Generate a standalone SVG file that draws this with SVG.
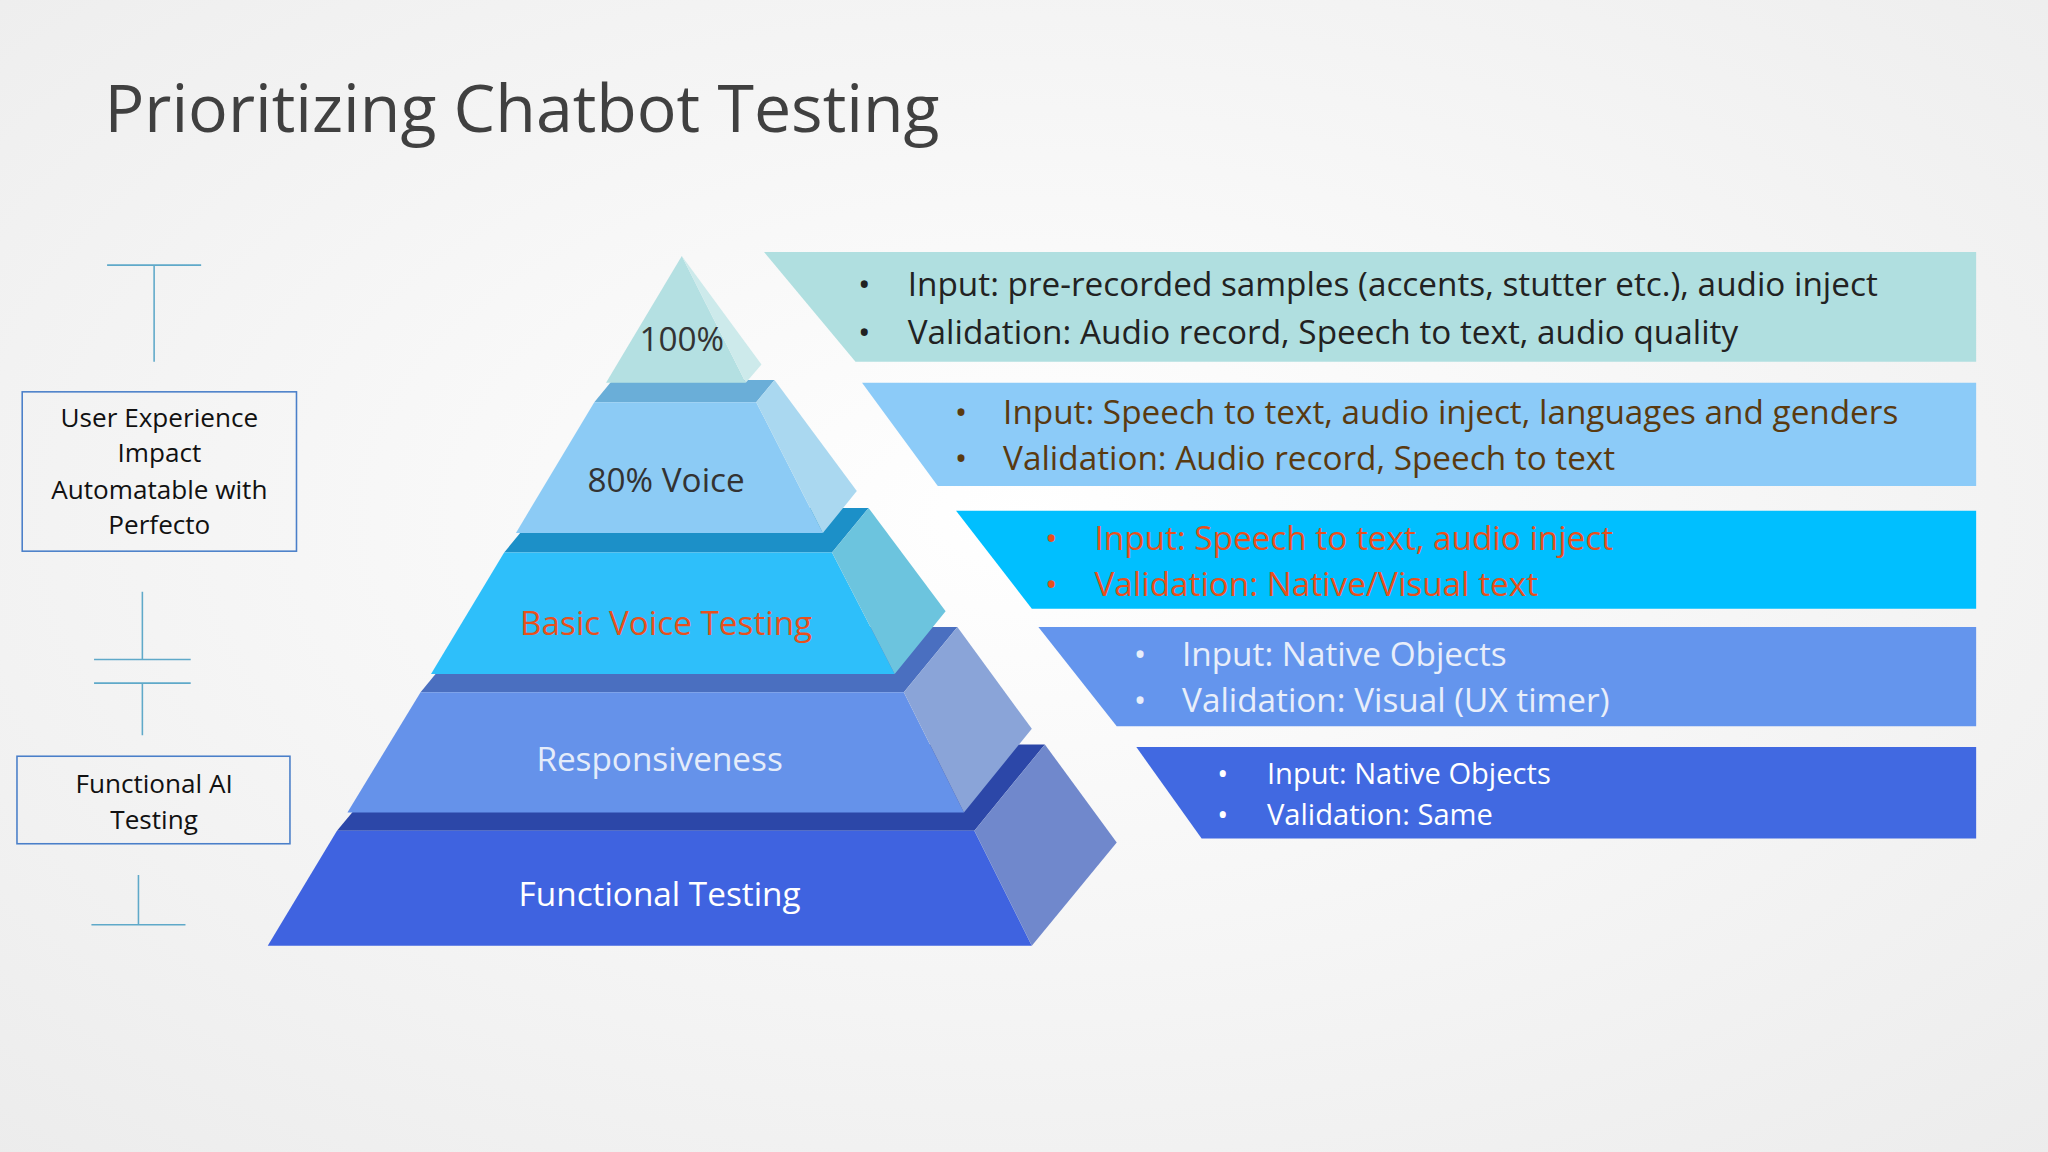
<svg xmlns="http://www.w3.org/2000/svg" width="2048" height="1152" viewBox="0 0 2048 1152">
<defs>
<radialGradient id="bg" cx="0.5" cy="0.45" r="0.75"><stop offset="0" stop-color="#ffffff"/><stop offset="1" stop-color="#ececec"/></radialGradient>
<style>
text{font-family:"Open Sans","Liberation Sans",sans-serif}
.ln{stroke:#5fa9c9;stroke-width:1.2;fill:none}
.box{fill:none;stroke:#4a7fc9;stroke-width:1.2}
.lbl{font-size:20px;fill:#111;text-anchor:middle}
.tier{font-size:25.5px;text-anchor:middle}
.bt{font-size:25.5px}
</style>
</defs>
<rect width="2048" height="1152" fill="url(#bg)"/>
<g transform="scale(1.30612)">
<text x="80" y="101" font-size="50.7" fill="#404040">Prioritizing Chatbot Testing</text>
<g id="left-scale">
<path class="ln" d="M82 203H154M118 203V277M109 453V505M72 505H146M72 523H146M109 523V563M106 670V708M70 708H142"/>
</g>
<g id="ux-box"><rect class="box" x="17" y="300" width="210" height="122"/>
<text class="lbl" x="122" y="327">User Experience</text><text class="lbl" x="122" y="354">Impact</text><text class="lbl" x="122" y="382">Automatable with</text><text class="lbl" x="122" y="409">Perfecto</text></g>
<g id="ai-box"><rect class="box" x="13" y="579" width="209" height="67"/>
<text class="lbl" x="118" y="607">Functional AI</text><text class="lbl" x="118" y="635">Testing</text></g>

<g id="tier5"><polygon points="258,636 746,636 800,570 313,570" fill="#2c47a8"/><polygon points="258,636 746,636 790,724 205,724" fill="#3f63e0"/><polygon points="746,636 800,570 855,645 790,724" fill="#7088cc"/><text class="tier" x="505" y="694" fill="#ffffff">Functional Testing</text></g>
<g id="tier4"><polygon points="322,530 692,530 733,480 363,480" fill="#4a6fc0"/><polygon points="322,530 692,530 738,622 266,622" fill="#6592ea"/><polygon points="692,530 733,480 790,558 738,622" fill="#8aa4d8"/><text class="tier" x="505" y="590" fill="#e4ecfa">Responsiveness</text></g>
<g id="tier3"><polygon points="386,423 637,423 665,389 414,389" fill="#1c90c8"/><polygon points="386,423 637,423 685,516 330,516" fill="#2ebffa"/><polygon points="637,423 665,389 724,468 685,516" fill="#6cc4de"/><text class="tier" x="510" y="486" fill="#e8501c">Basic Voice Testing</text></g>
<g id="tier2"><polygon points="455,308 579,308 593,291 469,291" fill="#6aaed8"/><polygon points="455,308 579,308 630,408 395,408" fill="#8ccbf5"/><polygon points="579,308 593,291 656,376 630,408" fill="#aad8f0"/><text class="tier" x="510" y="377" fill="#333">80% Voice</text></g>
<g id="tier1"><polygon points="522,196 464,293 571,293" fill="#b4e0e2"/><polygon points="522,196 571,293 583,279" fill="#cdeaeb"/><text class="tier" x="522" y="269" fill="#333">100%</text></g>

<g id="band1"><polygon points="585,193 1513,193 1513,277 655,277" fill="#b0dfe0"/>
<text class="bt" fill="#222"><tspan x="657" y="227">•</tspan><tspan x="695" y="227">Input: pre-recorded samples (accents, stutter etc.), audio inject</tspan><tspan x="657" y="263">•</tspan><tspan x="695" y="263">Validation: Audio record, Speech to text, audio quality</tspan></text></g>
<g id="band2"><polygon points="660,293 1513,293 1513,372 718,372" fill="#8ccbf8"/>
<text class="bt" fill="#5a3a10"><tspan x="731" y="325">•</tspan><tspan x="768" y="325">Input: Speech to text, audio inject, languages and genders</tspan><tspan x="731" y="360">•</tspan><tspan x="768" y="360">Validation: Audio record, Speech to text</tspan></text></g>
<g id="band3"><polygon points="732,391 1513,391 1513,466 790,466" fill="#00bfff"/>
<text class="bt" fill="#e8501c"><tspan x="800" y="421">•</tspan><tspan x="838" y="421">Input: Speech to text, audio inject</tspan><tspan x="800" y="456">•</tspan><tspan x="838" y="456">Validation: Native/Visual text</tspan></text></g>
<g id="band4"><polygon points="795,480 1513,480 1513,556 855,556" fill="#6495ed"/>
<text class="bt" fill="#e8eefa"><tspan x="868" y="510">•</tspan><tspan x="905" y="510">Input: Native Objects</tspan><tspan x="868" y="545">•</tspan><tspan x="905" y="545">Validation: Visual (UX timer)</tspan></text></g>
<g id="band5"><polygon points="870,572 1513,572 1513,642 920,642" fill="#4169e1"/>
<text font-size="22.3" fill="#ffffff"><tspan x="932" y="600">•</tspan><tspan x="970" y="600">Input: Native Objects</tspan><tspan x="932" y="632">•</tspan><tspan x="970" y="632">Validation: Same</tspan></text></g>
</g>
</svg>
